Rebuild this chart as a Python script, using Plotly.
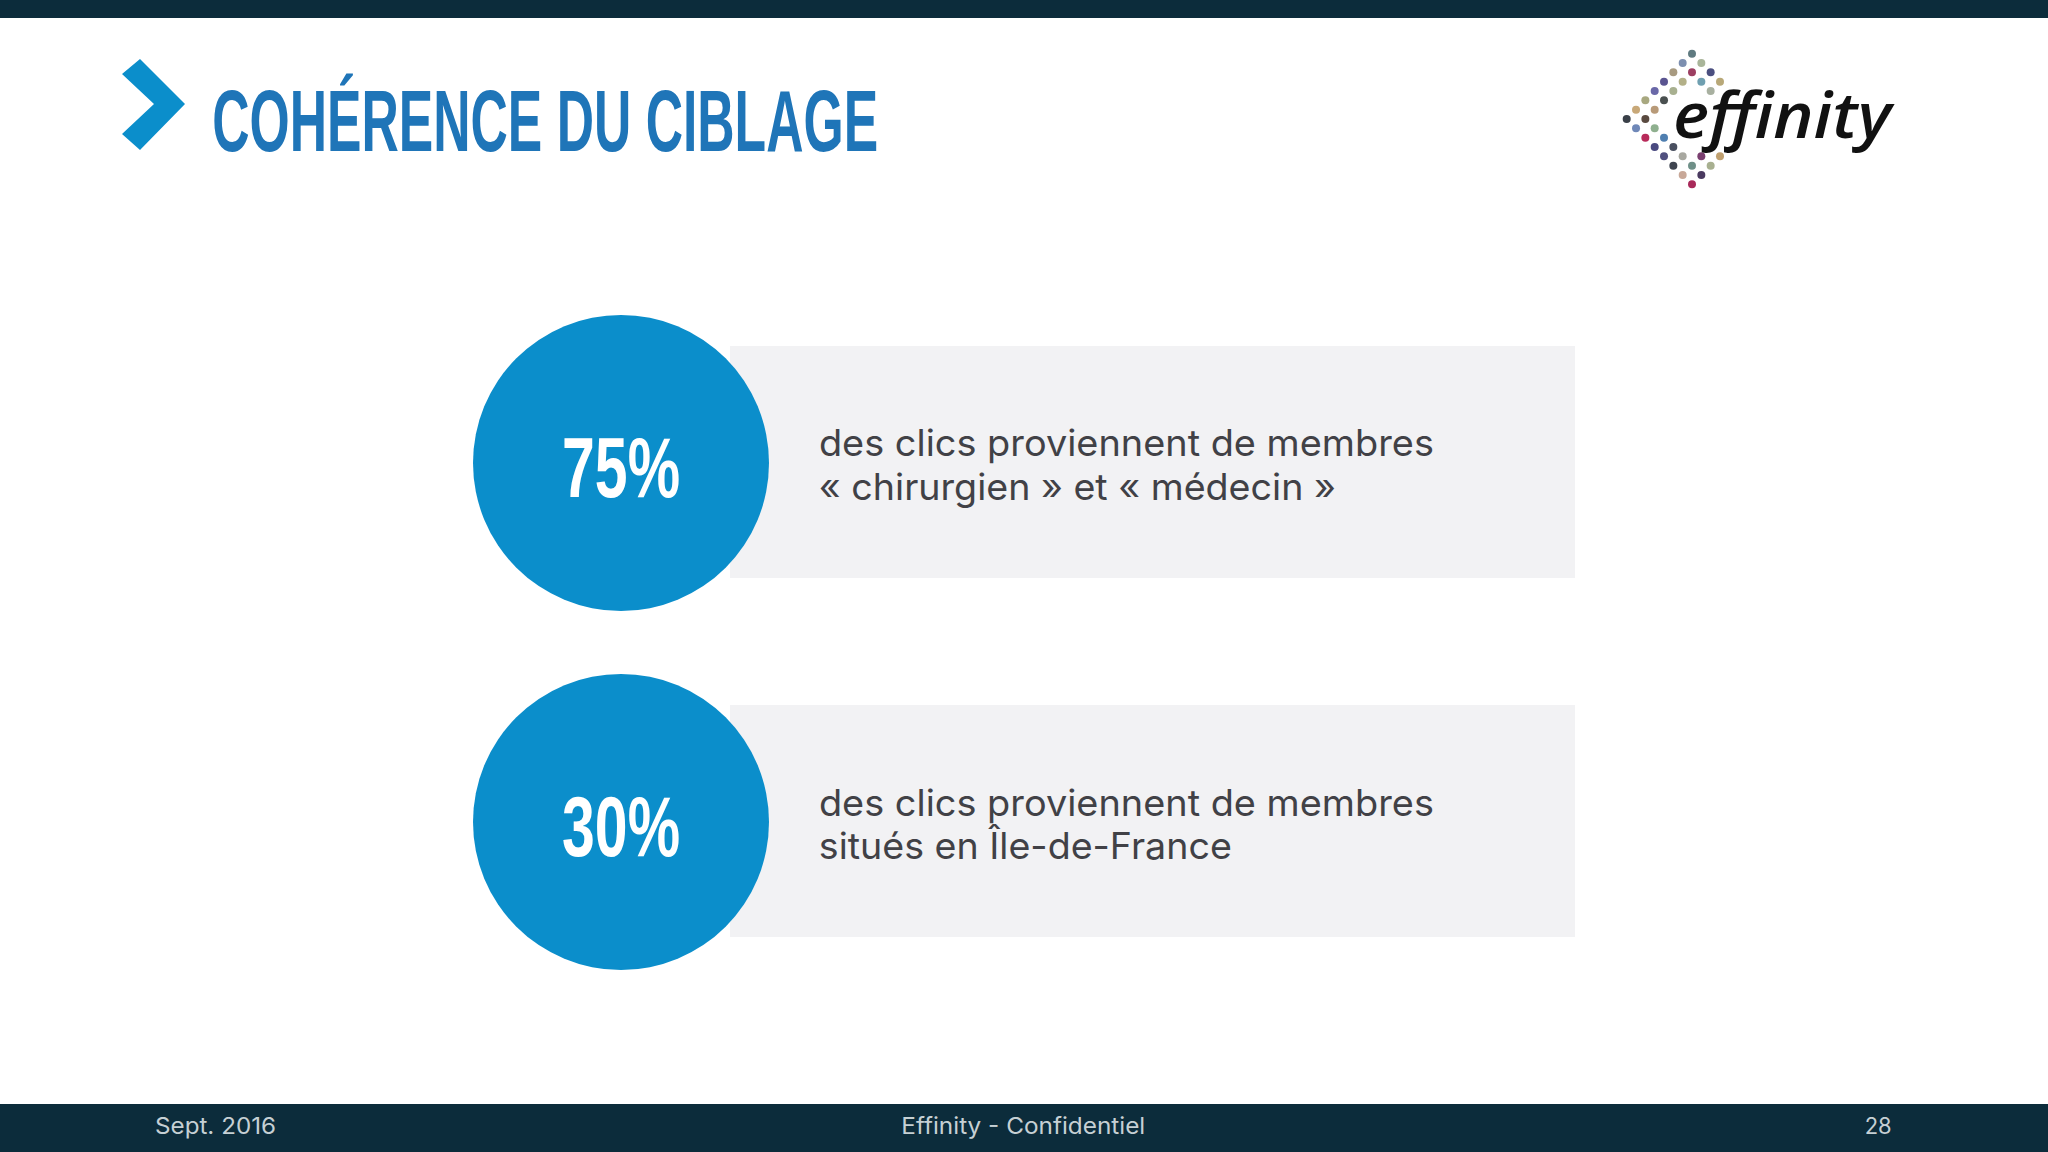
import json
import plotly.graph_objects as go

WIDTH = 2048
HEIGHT = 1152

title = 'COHÉRENCE DU CIBLAGE'
percent_labels = ['75%', '30%']
first_lines = ['des clics proviennent de membres', 'des clics proviennent de membres']
second_lines = ['« chirurgien » et « médecin »', 'situés en Île-de-France']
footer_date = 'Sept. 2016'
footer_center = 'Effinity - Confidentiel'
footer_page = '28'
logo_word = 'effinity'

# logo dots, in lattice steps from the centre of the diamond
logo_cols = [0, -1, 1, -2, 0, 2, -3, -1, 1, 3, -4, -2, 2, -5, -3, -6, -4, -7, -5,
             -6, -4, -5, -3, -4, -2, -3, -1, 1, 3, -2, 0, 2, -1, 1, 0]
logo_rows = [-7, -6, -6, -5, -5, -5, -4, -4, -4, -4, -3, -3, -3, -2, -2, -1, -1, 0, 0,
             1, 1, 2, 2, 3, 3, 4, 4, 4, 4, 5, 5, 5, 6, 6, 7]
logo_colors = ['#5f7a80', '#7d8fb0', '#a9b59a', '#a89a80', '#9c3f62', '#4b4f80',
               '#5a5490', '#b3b088', '#6f9fb0', '#b8a878', '#6a68a8', '#a8b090', '#a8b0a0',
               '#a8a880', '#4a5050', '#c8a878', '#b89a78', '#3a4048', '#5a4a40',
               '#6f88b8', '#8fb08f', '#b82a5a', '#4f7fb0', '#4a4a80', '#4a5060',
               '#50507f', '#a8a8a0', '#7a3f70', '#c0a070', '#3f4550', '#6f9088', '#a8b090',
               '#c8a898', '#4a3a60', '#a82a5a']

BAR_DARK = '#0c2c3b'
BLUE = '#0b8ecb'
TITLE_BLUE = '#1f75b8'
PANEL = '#f2f2f4'
TEXT = '#414146'
FOOTER_TEXT = '#c6d0d4'
HEAVY = 'Liberation Sans'
BODY = 'Inter'

row_centers = [463, 822]
circle_x = 621
logo_x = 1692
logo_y = 119
logo_step = 9.33

fig = go.Figure()

# grey panels and dark bars sit under everything
shapes = [
    dict(type='rect', x0=0, x1=WIDTH, y0=0, y1=18, fillcolor=BAR_DARK, line_width=0, layer='below'),
    dict(type='rect', x0=0, x1=WIDTH, y0=1104, y1=HEIGHT, fillcolor=BAR_DARK, line_width=0, layer='below'),
    # chevron next to the title
    dict(type='path', path='M 140 59 L 185 104 L 140 150 L 122 134 L 154 104 L 122 74 Z',
         fillcolor=BLUE, line_width=0, layer='below'),
]
for cy in row_centers:
    shapes.append(dict(type='rect', x0=730, x1=1575, y0=cy - 117, y1=cy + 115,
                       fillcolor=PANEL, line_width=0, layer='below'))

fig.add_trace(go.Scatter(
    x=[circle_x] * len(percent_labels),
    y=row_centers,
    mode='markers',
    marker=dict(size=296, color=BLUE, line_width=0),
    hoverinfo='skip'
))

fig.add_trace(go.Scatter(
    x=[logo_x + c * logo_step for c in logo_cols],
    y=[logo_y + r * logo_step for r in logo_rows],
    mode='markers',
    marker=dict(size=8, color=logo_colors, line_width=0),
    hoverinfo='skip'
))

# none of the slide's fonts are installed, so text is squeezed to the width it has in the slide
fitted = {}

def add_text(left, width, y, text, family, size, color, **font_opts):
    fitted[text] = width
    fig.add_annotation(x=left + width / 2, y=y, text=text, showarrow=False, xanchor='center', yanchor='middle',
                       font=dict(family=family, size=size, color=color, **font_opts))

add_text(212, 666, 120, title, HEAVY, 88, TITLE_BLUE, weight='bold')
add_text(1675, 218, 113, logo_word, 'Open Sans', 64, '#111111', style='italic', weight=600)

for cy, label, line1_y, line2, w2 in zip(row_centers, percent_labels, [442, 802], second_lines, [517, 413]):
    add_text(562, 118, cy + 4, label, HEAVY, 85, 'white', weight='bold')
    add_text(819, w2, cy + 23, line2, BODY, 37, TEXT)
    add_text(819, 615, line1_y, first_lines[0], BODY, 37, TEXT)

add_text(155, 121, 1126, footer_date, BODY, 23, FOOTER_TEXT)
add_text(901, 244, 1126, footer_center, BODY, 23, FOOTER_TEXT)
add_text(1864, 27, 1126, footer_page, BODY, 23, FOOTER_TEXT)

fig.update_layout(
    width=WIDTH, height=HEIGHT,
    margin=dict(l=0, r=0, t=0, b=0),
    paper_bgcolor='white', plot_bgcolor='white',
    showlegend=False,
    shapes=shapes,
    xaxis=dict(range=[0, WIDTH], visible=False, fixedrange=True),
    yaxis=dict(range=[HEIGHT, 0], visible=False, fixedrange=True),
)

fit_js = """
document.body.style.margin = '0';
var widths = %s;
document.querySelectorAll('.annotation-text').forEach(function (t) {
    var w = widths[t.textContent];
    if (w) {
        t.setAttribute('textLength', w);
        t.setAttribute('lengthAdjust', 'spacingAndGlyphs');
    }
});
""" % json.dumps(fitted)

fig.write_html('out.html', config=dict(displayModeBar=False), post_script=fit_js)
